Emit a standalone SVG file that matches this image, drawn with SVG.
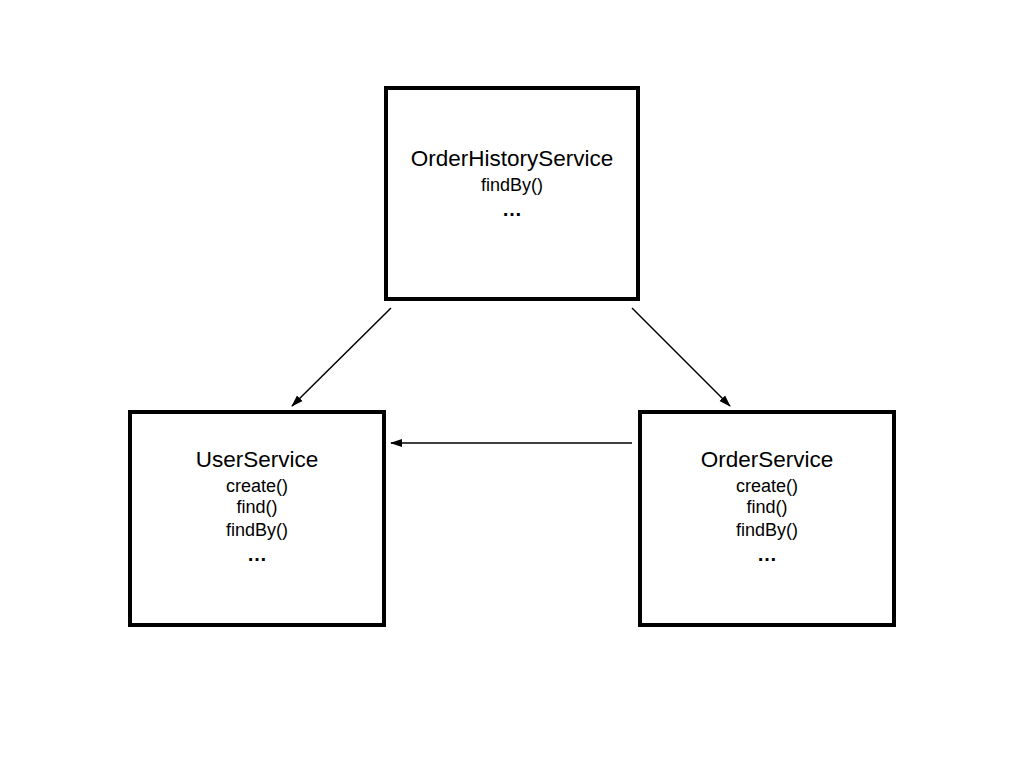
<svg xmlns="http://www.w3.org/2000/svg" width="1024" height="768" viewBox="0 0 1024 768">
<style>
.box{fill:#fff;stroke:#000;stroke-width:4}
.t{font-family:"Liberation Sans",Arial,sans-serif;fill:#000;text-anchor:middle}
.h{font-size:22.5px}
.m{font-size:18px}
.e{font-size:20px;font-weight:bold}
.c{stroke:#000;stroke-width:1.5;fill:none;marker-end:url(#a)}
</style>
<defs>
<marker id="a" viewBox="0 0 12 10" refX="11" refY="5" markerWidth="12" markerHeight="10" markerUnits="userSpaceOnUse" orient="auto">
<path d="M0,1 L12,5 L0,9 Z" fill="#000"/>
</marker>
</defs>
<rect width="1024" height="768" fill="#fff"/>
<g id="connectors">
<line class="c" x1="391" y1="308" x2="292" y2="406"/>
<line class="c" x1="632" y1="308" x2="730" y2="406"/>
<line class="c" x1="632" y1="443" x2="391" y2="443"/>
</g>
<g id="OrderHistoryService">
<rect class="box" x="386" y="88" width="252" height="211"/>
<text class="t h" x="512" y="166">OrderHistoryService</text>
<text class="t m" x="512" y="191">findBy()</text>
<text class="t e" x="512" y="216">…</text>
</g>
<g id="UserService">
<rect class="box" x="130" y="412" width="254" height="213"/>
<text class="t h" x="257" y="467">UserService</text>
<text class="t m" x="257" y="492">create()</text>
<text class="t m" x="257" y="513">find()</text>
<text class="t m" x="257" y="536">findBy()</text>
<text class="t e" x="257" y="561">…</text>
</g>
<g id="OrderService">
<rect class="box" x="640" y="412" width="254" height="213"/>
<text class="t h" x="767" y="467">OrderService</text>
<text class="t m" x="767" y="492">create()</text>
<text class="t m" x="767" y="513">find()</text>
<text class="t m" x="767" y="536">findBy()</text>
<text class="t e" x="767" y="561">…</text>
</g>
</svg>
